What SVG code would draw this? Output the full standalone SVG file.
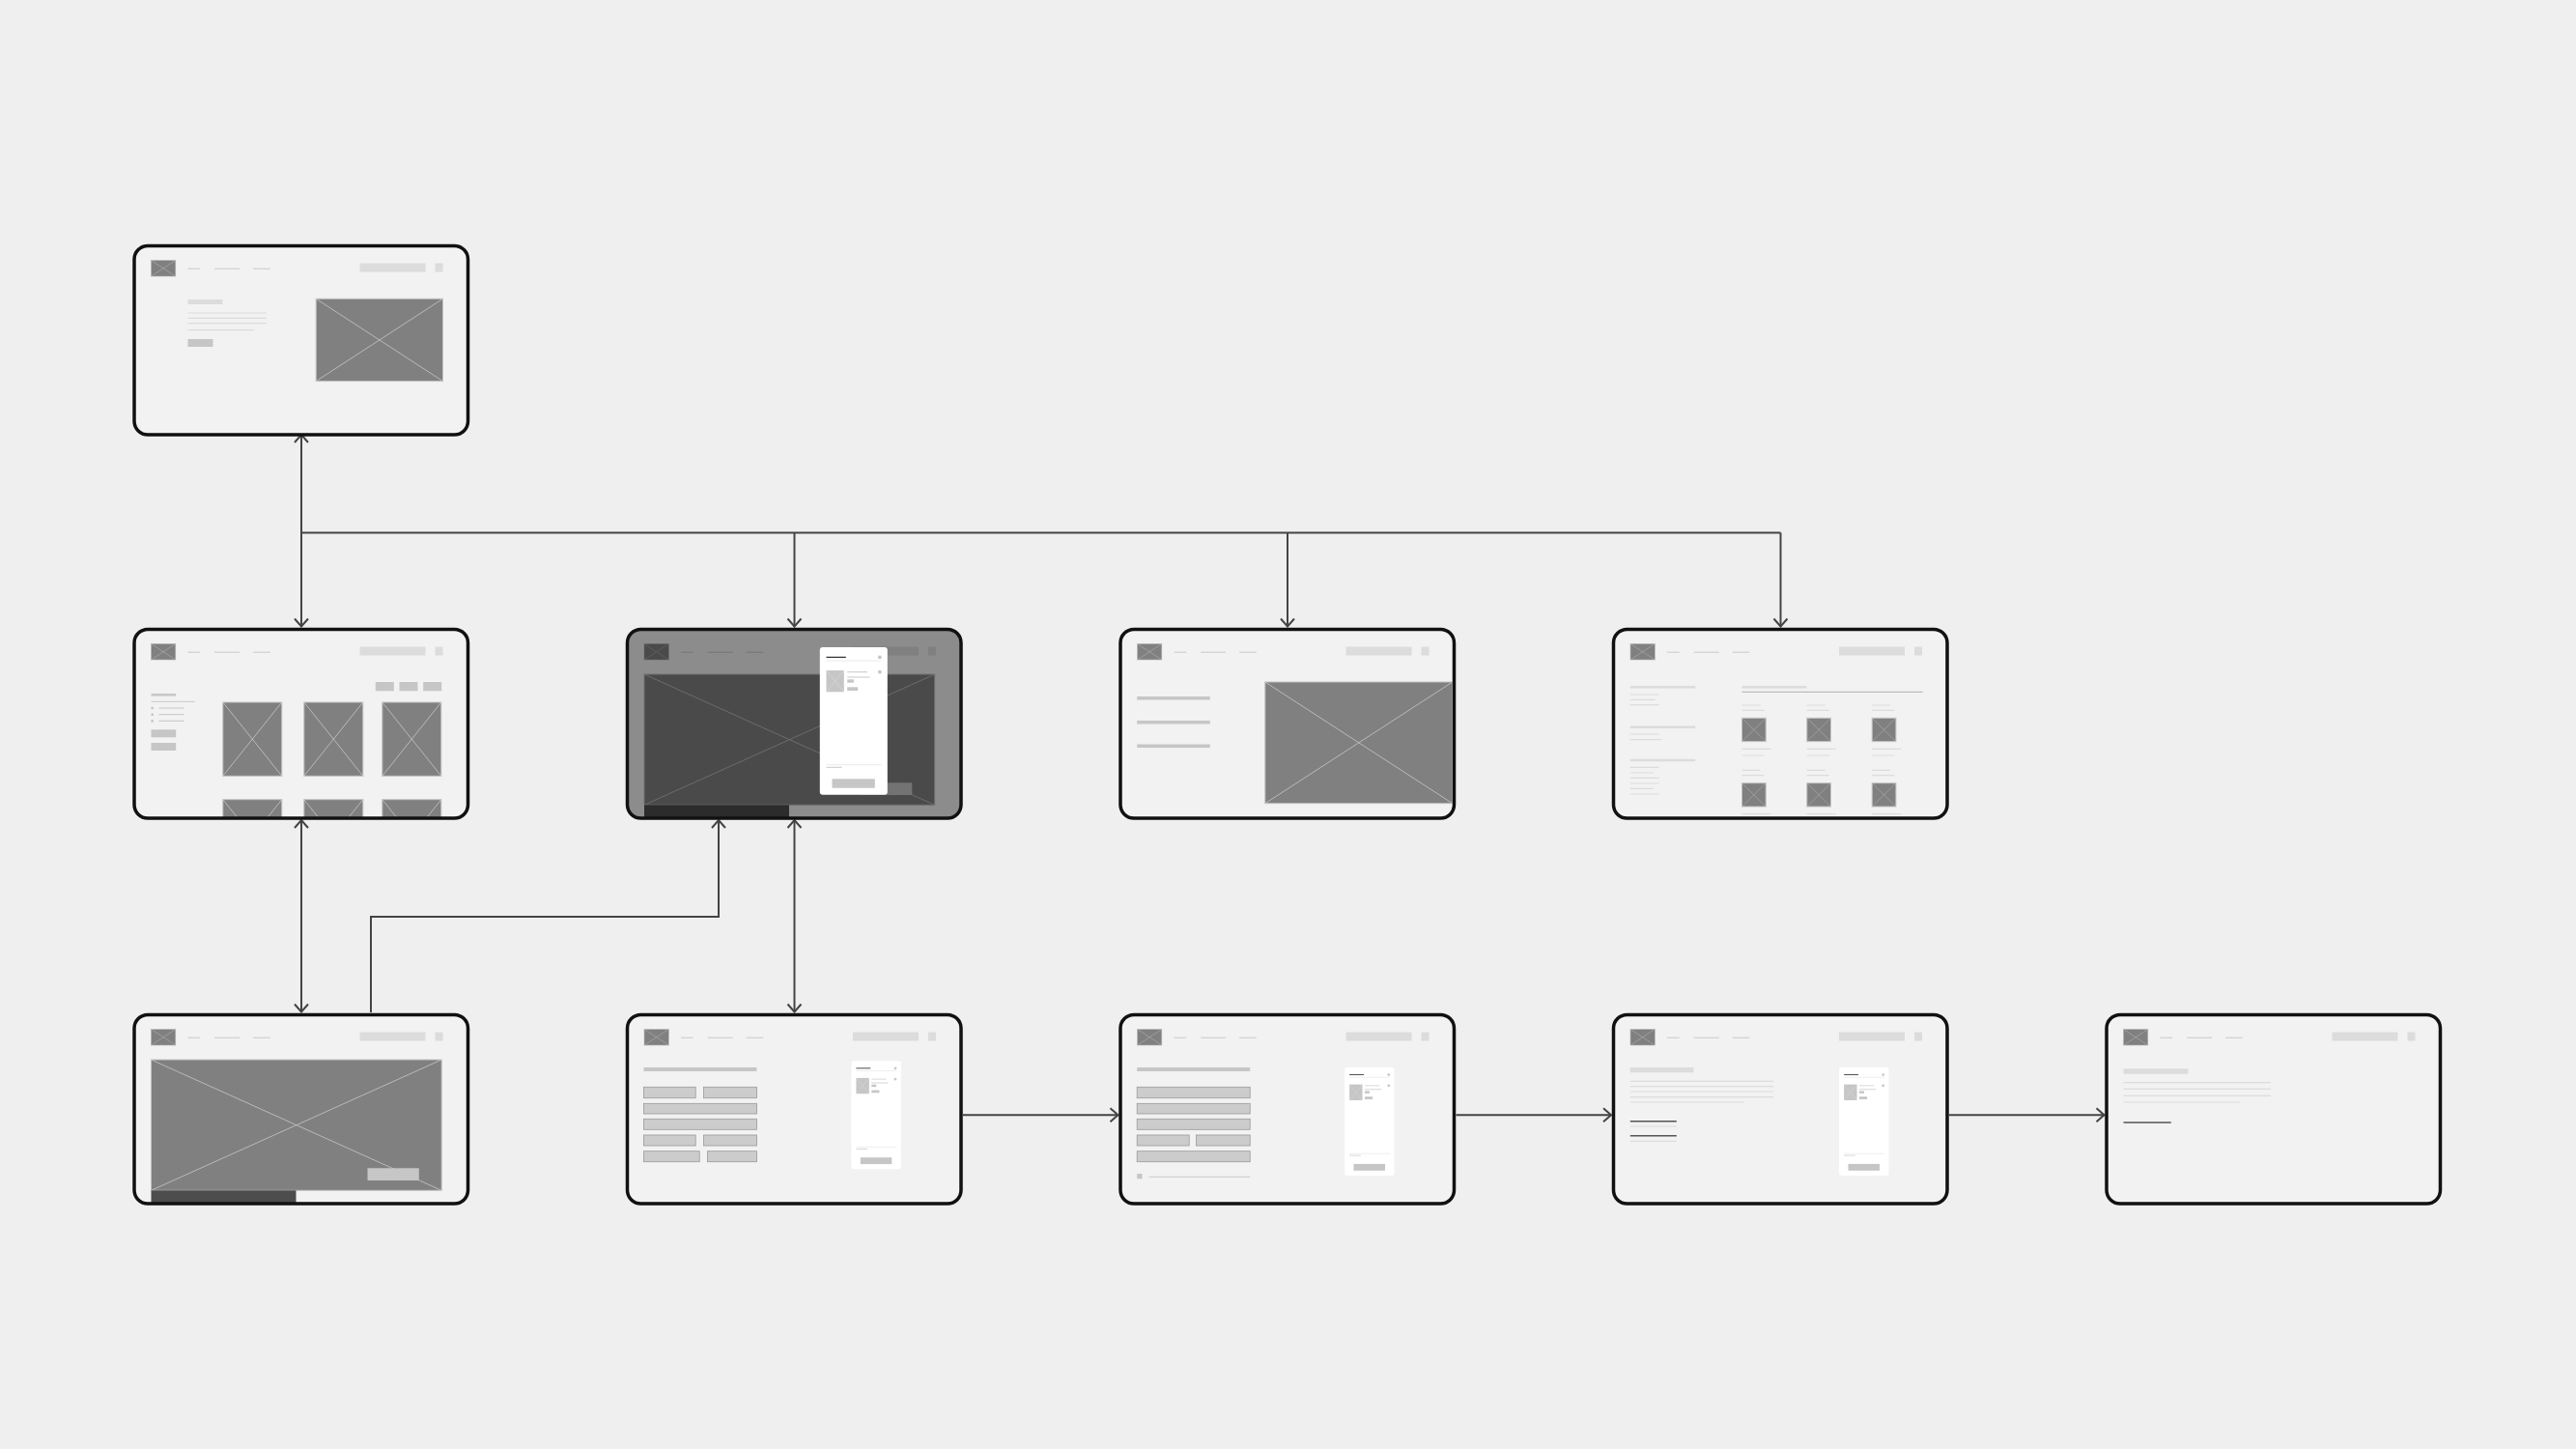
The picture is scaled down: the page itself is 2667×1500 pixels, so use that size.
<svg xmlns="http://www.w3.org/2000/svg" xmlns:xlink="http://www.w3.org/1999/xlink" width="2667" height="1500" viewBox="0 0 2667 1500">
<style>
.cardbg{fill:#f2f2f2}
.frame{fill:none;stroke:#111;stroke-width:3.5}
.img{fill:#808080;stroke:#c2c2c2;stroke-width:1}
.x{stroke:#c8c8c8;stroke-width:0.8;fill:none}
.xs{stroke:#b8b8b8;stroke-width:0.5;fill:none}
.fl{fill:#dcdcdc}
.fm{fill:#c6c6c6}
.ln{stroke:#dcdcdc;stroke-width:1.2;fill:none}
.ln2{stroke:#c8c8c8;stroke-width:1;fill:none}
.field{fill:#cccccc;stroke:#9a9a9a;stroke-width:0.8}
.dk{stroke:#555;stroke-width:1.4;fill:none}
.conn{fill:none;stroke:#444;stroke-width:2}
</style>
<defs>
<clipPath id="cardclip" clipPathUnits="userSpaceOnUse"><rect x="0.5" y="1" width="345.5" height="195.5" rx="14"/></clipPath>
<marker id="arr" viewBox="-10 -9 12 18" refX="0" refY="0" markerWidth="12" markerHeight="18" markerUnits="userSpaceOnUse" orient="auto-start-reverse" overflow="visible"><path d="M-8,-7 L0,0 L-8,7" fill="none" stroke="#444" stroke-width="2"/></marker>
<g id="hdr">
<rect x="18" y="16" width="25.3" height="16.5" fill="#808080" stroke="#b4b4b4" stroke-width="0.6"/>
<path class="xs" d="M18,16 L43.3,32.5 M43.3,16 L18,32.5"/>
<path class="ln2" d="M56,24.7 H68.7 M83.7,24.7 H109.7 M123.7,24.7 H141.3"/>
<rect class="fl" x="234" y="19" width="68" height="9"/>
<rect class="fl" x="312" y="19" width="8" height="9"/>
</g>
<g id="hero">
<rect class="img" x="18" y="47.5" width="300.7" height="135.3"/>
<path class="x" d="M18,47.5 L318.7,182.8 M318.7,47.5 L18,182.8"/>
<rect class="fm" x="242" y="159.8" width="53.3" height="12.7"/>
<rect x="18" y="182.8" width="150" height="16" fill="#4d4d4d"/>
</g>
<g id="cart">
<rect x="0" y="0" width="70" height="152.7" rx="3" fill="#fff"/>
<path d="M6.7,10.3 H27" stroke="#333" stroke-width="1.2"/>
<rect class="fm" x="60.4" y="8.7" width="3.3" height="3.3"/>
<path d="M6.7,14 H63.7 M6.7,121.7 H63.7" stroke="#e4e4e4" stroke-width="0.8"/>
<rect class="fm" x="6.7" y="24" width="18.3" height="22.3"/>
<path d="M6.7,24 L25,46.3 M25,24 L6.7,46.3" stroke="#dedede" stroke-width="0.5"/>
<path class="ln2" d="M28.4,25.7 H49 M28.4,31 H51.7 M6.7,124.3 H22.7" stroke-width="0.8"/>
<rect class="fm" x="28.4" y="33.3" width="6.7" height="3.4"/>
<rect class="fm" x="28.4" y="41.3" width="11" height="3.7"/>
<rect class="fm" x="60.4" y="24" width="3.3" height="3.3"/>
<rect class="fm" x="12.7" y="136.3" width="44.3" height="9.4"/>
</g>
</defs>
<rect width="2667" height="1500" fill="#efefef"/>

<g id="connectors">
<path class="conn" d="M312,450 V648.5" marker-start="url(#arr)" marker-end="url(#arr)"/>
<path class="conn" d="M312,551.5 H1843.5"/>
<path class="conn" d="M822.5,551.5 V648.5" marker-end="url(#arr)"/>
<path class="conn" d="M1333,551.5 V648.5" marker-end="url(#arr)"/>
<path class="conn" d="M1843.5,551.5 V648.5" marker-end="url(#arr)"/>
<path class="conn" d="M312,849 V1047.5" marker-start="url(#arr)" marker-end="url(#arr)"/>
<path class="conn" d="M384,1048 V949 H744 V849" marker-end="url(#arr)"/>
<path class="conn" d="M822.5,849 V1047.5" marker-start="url(#arr)" marker-end="url(#arr)"/>
<path class="conn" d="M997,1154.3 H1157.5" marker-end="url(#arr)"/>
<path class="conn" d="M1507.5,1154.3 H1668" marker-end="url(#arr)"/>
<path class="conn" d="M2018,1154.3 H2178.5" marker-end="url(#arr)"/>
</g>

<g id="card-home" transform="translate(138.5,253.5)">
<rect class="cardbg" x="0.5" y="1" width="345.5" height="195.5" rx="14"/>
<g clip-path="url(#cardclip)">
<use href="#hdr"/>
<rect class="fl" x="56" y="56.5" width="36" height="5"/>
<path class="ln" d="M56,70.5 H137.3 M56,75.8 H137.3 M56,81.2 H137.3 M56,88.2 H124.7"/>
<rect class="fm" x="56" y="97.5" width="26" height="8"/>
<rect class="img" x="188.7" y="55.8" width="131.3" height="85.3"/>
<path class="x" d="M188.7,55.8 L320,141.1 M320,55.8 L188.7,141.1"/>
</g>
<rect class="frame" x="0.5" y="1" width="345.5" height="195.5" rx="14"/>
</g>

<g id="card-list" transform="translate(138.5,650.5)">
<rect class="cardbg" x="0.5" y="1" width="345.5" height="195.5" rx="14"/>
<g clip-path="url(#cardclip)">
<use href="#hdr"/>
<rect class="fm" x="250.3" y="55.5" width="19" height="9.3"/>
<rect class="fm" x="275" y="55.5" width="19" height="9.3"/>
<rect class="fm" x="299.7" y="55.5" width="19" height="9.3"/>
<rect x="18" y="67.5" width="25.7" height="2.6" fill="#c8c8c8"/>
<path class="ln2" d="M18,75.8 H63"/>
<rect x="18" y="81.4" width="2.3" height="2.3" fill="#c0c0c0"/>
<rect x="18" y="88.1" width="2.3" height="2.3" fill="#c0c0c0"/>
<rect x="18" y="94.7" width="2.3" height="2.3" fill="#c0c0c0"/>
<path d="M26,82.5 H52 M26,89.2 H52 M26,95.8 H52" stroke="#c0c0c0" stroke-width="0.9"/>
<rect class="fm" x="18" y="104.8" width="25.7" height="8"/>
<rect class="fm" x="18" y="118.5" width="25.7" height="8"/>
<rect class="img" x="92.3" y="76.5" width="61" height="76.3"/><path class="x" d="M92.3,76.5 L153.3,152.8 M153.3,76.5 L92.3,152.8"/>
<rect class="img" x="176.3" y="76.5" width="61" height="76.3"/><path class="x" d="M176.3,76.5 L237.3,152.8 M237.3,76.5 L176.3,152.8"/>
<rect class="img" x="257.3" y="76.5" width="61" height="76.3"/><path class="x" d="M257.3,76.5 L318.3,152.8 M318.3,76.5 L257.3,152.8"/>
<rect class="img" x="92.3" y="177.2" width="61" height="76.3"/><path class="x" d="M92.3,177.2 L153.3,253.5 M153.3,177.2 L92.3,253.5"/>
<rect class="img" x="176.3" y="177.2" width="61" height="76.3"/><path class="x" d="M176.3,177.2 L237.3,253.5 M237.3,177.2 L176.3,253.5"/>
<rect class="img" x="257.3" y="177.2" width="61" height="76.3"/><path class="x" d="M257.3,177.2 L318.3,253.5 M318.3,177.2 L257.3,253.5"/>
</g>
<rect class="frame" x="0.5" y="1" width="345.5" height="195.5" rx="14"/>
</g>

<g id="card-cart-modal" transform="translate(649,650.5)">
<rect class="cardbg" x="0.5" y="1" width="345.5" height="195.5" rx="14"/>
<g clip-path="url(#cardclip)">
<use href="#hdr"/>
<use href="#hero"/>
<rect width="348" height="197" fill="#000" fill-opacity="0.42"/>
<use href="#cart" transform="translate(199.8,19.5)"/>
</g>
<rect class="frame" x="0.5" y="1" width="345.5" height="195.5" rx="14"/>
</g>

<g id="card-detail" transform="translate(1159.5,650.5)">
<rect class="cardbg" x="0.5" y="1" width="345.5" height="195.5" rx="14"/>
<g clip-path="url(#cardclip)">
<use href="#hdr"/>
<rect class="fm" x="17.7" y="70.5" width="75.6" height="3.5"/>
<rect class="fm" x="17.7" y="95.5" width="75.6" height="3.5"/>
<rect class="fm" x="17.7" y="120" width="75.6" height="3.5"/>
<rect class="img" x="150.3" y="55.5" width="194" height="125.7" stroke-width="1.5"/>
<path class="x" stroke-width="1.2" d="M150.3,55.5 L344.3,181.2 M344.3,55.5 L150.3,181.2"/>
</g>
<rect class="frame" x="0.5" y="1" width="345.5" height="195.5" rx="14"/>
</g>

<g id="card-search" transform="translate(1670,650.5)">
<rect class="cardbg" x="0.5" y="1" width="345.5" height="195.5" rx="14"/>
<g clip-path="url(#cardclip)">
<use href="#hdr"/>
<rect class="fl" x="17.8" y="59.5" width="67.4" height="2.6"/>
<rect class="fl" x="17.8" y="100.9" width="67.4" height="2.6"/>
<rect class="fl" x="17.8" y="135.2" width="67.4" height="2.6"/>
<path class="ln" stroke-width="1" d="M17.8,68.5 H47.8 M17.8,73.8 H43.8 M17.8,79.2 H47.8 M17.8,109.5 H47.8 M17.8,115.2 H50.5 M17.8,143.8 H47.8 M17.8,149.5 H42.1 M17.8,154.8 H47.8 M17.8,160.5 H47.8 M17.8,165.8 H42.1 M17.8,171.5 H47.8"/>
<rect class="fl" x="133.5" y="59.5" width="67" height="2.6"/>
<path d="M133.5,65.8 H320.5" stroke="#a0a0a0" stroke-width="0.8"/>
<g id="grid-a">
<path class="ln" stroke-width="1" d="M133.5,79.5 H152.5 M133.5,84.8 H156.5 M133.5,124.8 H163.5 M133.5,131.5 H156.5 M200.8,79.5 H219.8 M200.8,84.8 H223.8 M200.8,124.8 H230.8 M200.8,131.5 H223.8 M268.2,79.5 H287.2 M268.2,84.8 H291.2 M268.2,124.8 H298.2 M268.2,131.5 H291.2"/>
<rect class="img" x="133.5" y="92.8" width="24.7" height="24.3"/><path class="xs" d="M133.5,92.8 L158.2,117.1 M158.2,92.8 L133.5,117.1"/>
<rect class="img" x="200.8" y="92.8" width="24.7" height="24.3"/><path class="xs" d="M200.8,92.8 L225.5,117.1 M225.5,92.8 L200.8,117.1"/>
<rect class="img" x="268.2" y="92.8" width="24.7" height="24.3"/><path class="xs" d="M268.2,92.8 L292.9,117.1 M292.9,92.8 L268.2,117.1"/>
</g>
<use href="#grid-a" transform="translate(0,67.4)"/>
</g>
<rect class="frame" x="0.5" y="1" width="345.5" height="195.5" rx="14"/>
</g>

<g id="card-hero" transform="translate(138.5,1049.5)">
<rect class="cardbg" x="0.5" y="1" width="345.5" height="195.5" rx="14"/>
<g clip-path="url(#cardclip)">
<use href="#hdr"/>
<use href="#hero"/>
</g>
<rect class="frame" x="0.5" y="1" width="345.5" height="195.5" rx="14"/>
</g>

<g id="card-checkout-1" transform="translate(649,1049.5)">
<rect class="cardbg" x="0.5" y="1" width="345.5" height="195.5" rx="14"/>
<g clip-path="url(#cardclip)">
<use href="#hdr"/>
<rect class="fm" x="17.5" y="55.5" width="117" height="4"/>
<rect class="field" x="17.5" y="75.8" width="53.7" height="11.4"/>
<rect class="field" x="79.5" y="75.8" width="55" height="11.4"/>
<rect class="field" x="17.5" y="92.8" width="117" height="10.7"/>
<rect class="field" x="17.5" y="108.8" width="117" height="11"/>
<rect class="field" x="17.5" y="125.5" width="53.7" height="11"/>
<rect class="field" x="79.5" y="125.5" width="55" height="11"/>
<rect class="field" x="17.5" y="142.2" width="57.7" height="11"/>
<rect class="field" x="83.5" y="142.2" width="51" height="11"/>
<use href="#cart" transform="translate(232.5,48.8) scale(0.733)"/>
</g>
<rect class="frame" x="0.5" y="1" width="345.5" height="195.5" rx="14"/>
</g>

<g id="card-checkout-2" transform="translate(1159.5,1049.5)">
<rect class="cardbg" x="0.5" y="1" width="345.5" height="195.5" rx="14"/>
<g clip-path="url(#cardclip)">
<use href="#hdr"/>
<rect class="fm" x="17.7" y="55.5" width="117" height="4"/>
<rect class="field" x="17.7" y="75.8" width="117" height="11.4"/>
<rect class="field" x="17.7" y="92.8" width="117" height="10.7"/>
<rect class="field" x="17.7" y="108.8" width="117" height="11"/>
<rect class="field" x="17.7" y="125.5" width="54" height="11"/>
<rect class="field" x="79" y="125.5" width="55.7" height="11"/>
<rect class="field" x="17.7" y="142.2" width="117" height="11"/>
<rect class="fm" x="17.7" y="165.5" width="5.3" height="5.3"/>
<path class="ln2" d="M30,168.8 H134.7"/>
<use href="#cart" transform="translate(232.7,55.5) scale(0.733)"/>
</g>
<rect class="frame" x="0.5" y="1" width="345.5" height="195.5" rx="14"/>
</g>

<g id="card-confirmation" transform="translate(1670,1049.5)">
<rect class="cardbg" x="0.5" y="1" width="345.5" height="195.5" rx="14"/>
<g clip-path="url(#cardclip)">
<use href="#hdr"/>
<rect class="fl" x="17.8" y="55.5" width="65.7" height="5.3"/>
<path class="ln" d="M17.8,69.8 H166.2 M17.8,75.2 H166.2 M17.8,80.5 H166.2 M17.8,86.2 H166.2 M17.8,91.5 H136.2 M17.8,116.5 H65.8 M17.8,131.8 H65.8"/>
<path class="dk" d="M17.8,111.2 H65.8"/>
<path class="dk" stroke="#666" d="M17.8,126.2 H65.8"/>
<use href="#cart" transform="translate(234.2,55.5) scale(0.733)"/>
</g>
<rect class="frame" x="0.5" y="1" width="345.5" height="195.5" rx="14"/>
</g>

<g id="card-account" transform="translate(2180.5,1049.5)">
<rect class="cardbg" x="0.5" y="1" width="345.5" height="195.5" rx="14"/>
<g clip-path="url(#cardclip)">
<use href="#hdr"/>
<rect class="fl" x="18" y="56.8" width="67" height="5.4"/>
<path class="ln" d="M18,71.2 H170.3 M18,77.8 H170.3 M18,84.8 H170.3 M18,91.5 H138.7"/>
<path class="dk" d="M18,112.5 H67.3"/>
</g>
<rect class="frame" x="0.5" y="1" width="345.5" height="195.5" rx="14"/>
</g>
</svg>
